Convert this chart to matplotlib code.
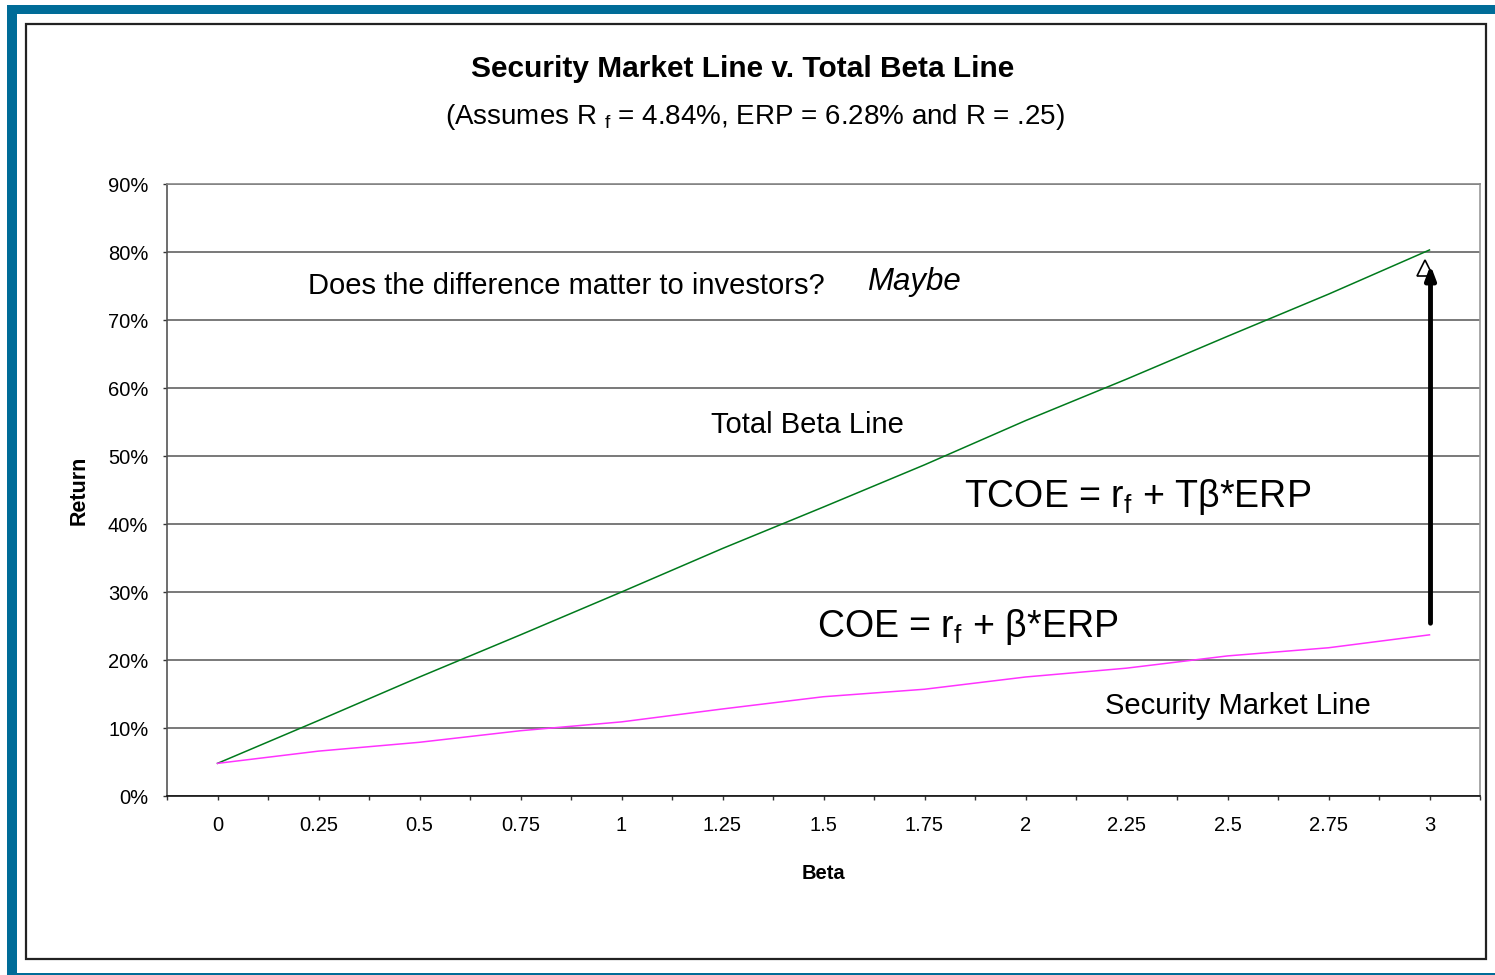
import numpy as np
import matplotlib
matplotlib.use("Agg")
import matplotlib.pyplot as plt
from matplotlib.patches import Rectangle
from matplotlib.ticker import FixedLocator, PercentFormatter

plt.rcParams["font.family"] = ["Liberation Sans", "DejaVu Sans"]
plt.rcParams["mathtext.default"] = "regular"

# Data
betas = ["0", "0.25", "0.5", "0.75", "1", "1.25", "1.5", "1.75",
         "2", "2.25", "2.5", "2.75", "3"]
total_beta_line = [4.8, 11.1, 17.5, 23.7, 30.0, 36.4, 42.5, 48.7,
                   55.2, 61.3, 67.6, 73.8, 80.3]
security_market_line = [4.8, 6.6, 7.9, 9.6, 10.9, 12.8, 14.6, 15.7,
                        17.5, 18.8, 20.6, 21.8, 23.7]
y_ticks = [0, 10, 20, 30, 40, 50, 60, 70, 80, 90]

teal = "#006c98"

fig = plt.figure(figsize=(14.95, 9.75), dpi=100)

# Frame around the chart
fig.patches.append(Rectangle((7 / 1495, 0), 1 - 7 / 1495, 1 - 5 / 975,
                             transform=fig.transFigure, facecolor=teal,
                             edgecolor="none", zorder=-3))
fig.patches.append(Rectangle((17 / 1495, 2 / 975), 1 - 17 / 1495, 1 - 16 / 975,
                             transform=fig.transFigure, facecolor="white",
                             edgecolor="none", zorder=-2))
fig.patches.append(Rectangle((26 / 1495, 1 - 959 / 975), 1460 / 1495, 935 / 975,
                             transform=fig.transFigure, facecolor="white",
                             edgecolor="#222222", linewidth=1.6, zorder=-1))

ax = fig.add_axes([167 / 1495, 1 - 796 / 975, 1313 / 1495, 612 / 975])
x = np.arange(len(betas))

ax.plot(x, total_beta_line, color="#007a1c", linewidth=1.1, zorder=3)
ax.plot(x, security_market_line, color="#ff33ff", linewidth=1.1, zorder=3)

ax.set_xlim(-0.5, len(betas) - 0.5)
ax.set_ylim(0, 90)

# Category axis: labels at points, tick marks at points and boundaries
ax.xaxis.set_major_locator(FixedLocator(x))
ax.xaxis.set_minor_locator(FixedLocator(np.arange(-0.5, len(betas), 1.0)))
ax.set_xticklabels(betas)
ax.yaxis.set_major_locator(FixedLocator(y_ticks))
ax.yaxis.set_major_formatter(PercentFormatter(decimals=0))

ax.tick_params(axis="x", which="both", direction="out", length=3, width=1,
               color="#333333", labelsize=14.5, pad=11.5)
ax.tick_params(axis="y", which="major", direction="out", length=3, width=1,
               color="#333333", labelsize=14.5, pad=10.5)

ax.grid(axis="y", color="#555555", linewidth=1.1)
ax.set_axisbelow(True)
for side, col in [("top", "#888888"), ("right", "#999999"),
                  ("left", "#555555"), ("bottom", "#111111")]:
    ax.spines[side].set_color(col)
    ax.spines[side].set_linewidth(1.2)

ax.set_xlabel("Beta", fontsize=14.5, fontweight="bold", labelpad=21)
ax.set_ylabel("Return", fontsize=15.5, fontweight="bold", labelpad=13)

fig.text(0.497, 1 - 69 / 975, "Security Market Line v. Total Beta Line",
         ha="center", va="center", fontsize=21.5, fontweight="bold")
fig.text(0.505, 1 - 117 / 975,
         r"(Assumes R $_{f}$ = 4.84%, ERP = 6.28% and R = .25)",
         ha="center", va="center", fontsize=20)

# Annotations inside the plot
ax.text(0.90, 75.0, "Does the difference matter to investors?",
        ha="left", va="center", fontsize=21)
ax.text(6.43, 75.6, "Maybe", ha="left", va="center", fontsize=22.5,
        style="italic")
ax.text(4.89, 54.6, "Total Beta Line", ha="left", va="center", fontsize=21)
ax.text(7.39, 42.5, r"TCOE = r$_f$ + T$\beta$*ERP", ha="left",
        va="baseline", fontsize=27)
ax.text(5.94, 23.4, r"COE = r$_f$ + $\beta$*ERP", ha="left",
        va="baseline", fontsize=27)
ax.text(8.79, 13.2, "Security Market Line", ha="left", va="center",
        fontsize=21)

# Arrow from the SML end up to the total beta line end
end = len(betas) - 1
ax.plot([end - 0.04], [total_beta_line[-1] - 2.6], marker="^",
        markersize=11, markerfacecolor="white", markeredgecolor="black",
        markeredgewidth=1.2, zorder=4)
ax.annotate("", xy=(end + 0.01, total_beta_line[-1] - 1.8),
            xytext=(end + 0.01, security_market_line[-1] + 1.3),
            arrowprops=dict(arrowstyle="-|>,head_length=0.8,head_width=0.3",
                            facecolor="black", edgecolor="black", lw=3.5),
            zorder=5)

fig.savefig("out.png", dpi=100)
